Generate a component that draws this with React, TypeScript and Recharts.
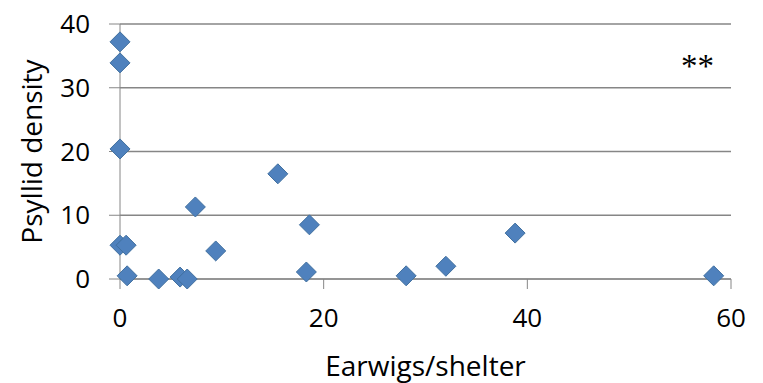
import { ScatterChart, Scatter, XAxis, YAxis, CartesianGrid, ReferenceDot } from 'recharts';

// Earwigs per shelter vs psyllid density, one point per plot
const earwigs = [0, 0, 0, 0, 0.6, 0.7, 3.8, 5.9, 6.6, 7.4, 9.4, 15.5, 18.6, 18.3, 28.1, 32.0, 38.8, 58.3];
const psyllids = [37.2, 33.9, 20.4, 5.3, 5.3, 0.5, 0, 0.3, 0, 11.3, 4.4, 16.5, 8.5, 1.1, 0.5, 2.0, 7.2, 0.5];

const xTicks = [0, 20, 40, 60];
const yTicks = [0, 10, 20, 30, 40];

const AXIS = '#868686';
const FONT = '"Open Sans", sans-serif';

const data = earwigs.map((x, i) => ({ x, y: psyllids[i] }));

function Diamond(props: any) {
  const { cx, cy } = props;
  const r = 10;
  return (
    <path
      d={`M${cx},${cy - r}L${cx + r},${cy}L${cx},${cy + r}L${cx - r},${cy}Z`}
      fill="#4F81BD"
      stroke="#41709F"
      strokeWidth={1}
    />
  );
}

export default function App() {
  return (
    <div style={{ position: 'absolute', left: 0, top: 0, background: '#fff' }}>
      <ScatterChart width={763} height={383} margin={{ top: 24, right: 32, left: 0, bottom: 0 }}>
        <CartesianGrid vertical={false} stroke={AXIS} strokeWidth={1.5} />
        <XAxis
          type="number"
          dataKey="x"
          domain={[0, 60]}
          ticks={xTicks}
          height={104}
          stroke={AXIS}
          tickSize={10}
          tickMargin={20}
          tick={{ fill: '#000', fontSize: 26, fontFamily: FONT }}
          label={{ value: 'Earwigs/shelter', position: 'insideBottom', offset: 7, fill: '#000', fontSize: 28, fontFamily: FONT }}
        />
        <YAxis
          type="number"
          dataKey="y"
          domain={[0, 40]}
          ticks={yTicks}
          width={120}
          stroke={AXIS}
          tickSize={11}
          tickMargin={19}
          tick={{ fill: '#000', fontSize: 26, fontFamily: FONT }}
          label={{
            value: 'Psyllid density',
            angle: -90,
            position: 'insideLeft',
            offset: 32,
            fill: '#000',
            fontSize: 28,
            fontFamily: FONT,
            style: { textAnchor: 'middle' },
          }}
        />
        <ReferenceDot
          x={56.7}
          y={33.6}
          r={0}
          label={{ value: '**', position: 'center', fill: '#000', fontSize: 33, fontFamily: '"Liberation Serif", serif' }}
        />
        <Scatter data={data} shape={Diamond} isAnimationActive={false} />
      </ScatterChart>
    </div>
  );
}
